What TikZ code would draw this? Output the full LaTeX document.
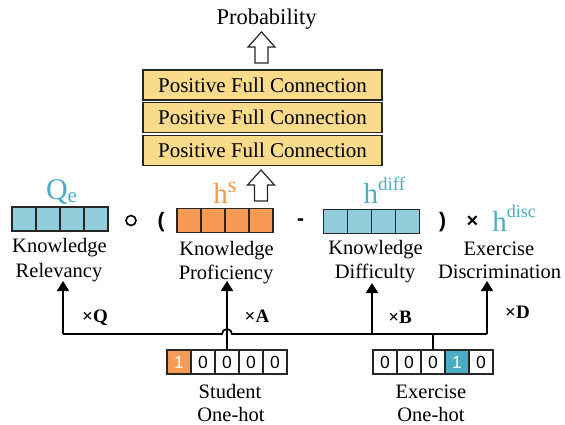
\documentclass[tikz,border=0pt]{standalone}
\usepackage{fontspec}
\setmainfont{Liberation Serif}
\newfontfamily\sansf{Liberation Sans}
\usetikzlibrary{arrows.meta}
\definecolor{kblue}{HTML}{92CDDC}
\definecolor{korange}{HTML}{F79A55}
\definecolor{kyellow}{HTML}{FADB8C}
\definecolor{tcyan}{HTML}{4BACC6}
\definecolor{torange}{HTML}{F79646}
\newcommand\setfs[1]{\fontsize{#1}{#1}\selectfont}
\begin{document}
\begin{tikzpicture}[x=1pt,y=-1pt,
  cell/.style={draw=black!85,line width=1.3pt,minimum width=24pt,minimum height=24pt,inner sep=0pt,outer sep=0pt,font=\sansf\setfs{17.5}},
  pfc/.style={draw=black!85,line width=1.3pt,fill=kyellow,minimum width=239pt,minimum height=30pt,inner sep=0pt,font=\setfs{21}},
  lbl/.style={anchor=base,inner sep=0pt,font=\setfs{20.5}},
  mult/.style={anchor=base,inner sep=0pt,font=\bfseries\setfs{19}},
  op/.style={inner sep=0pt,anchor=center,font=\sansf\bfseries\setfs{21}},
  conn/.style={line width=1.7pt,-{Triangle[length=10pt,width=12pt]}},
  wire/.style={line width=1.7pt},
  hollow/.style={draw=black!85,line width=1.2pt,fill=white,line join=miter},
  harrow/.pic={\draw[hollow] (-6.5,0) -- (-6.5,-16) -- (-13.5,-16) -- (0,-31) -- (13.5,-16) -- (6.5,-16) -- (6.5,0) -- cycle;}]
\useasboundingbox (0,0) rectangle (565,425);

% top
\node[anchor=base,inner sep=0pt,font=\setfs{22.5}] (prob) at (266.5,25) {Probability};
\pic at (261.5,63) {harrow};
\node[pfc] (pfc1) at (262.5,85) {Positive Full Connection};
\node[pfc] (pfc2) at (262.5,117.5) {Positive Full Connection};
\node[pfc] (pfc3) at (262.5,150.5) {Positive Full Connection};
\pic at (261,201) {harrow};

% symbols
\node[anchor=base,inner sep=0pt,text=tcyan] (qe) at (61.5,199) {\setfs{30}Q\raisebox{-3pt}{\setfs{21}e}};
\node[anchor=base,inner sep=0pt,text=torange] (hs) at (225,203) {\setfs{29}h\raisebox{10pt}{\setfs{22}s}};
\node[anchor=base,inner sep=0pt,text=tcyan] (hdiff) at (384.5,203) {\setfs{29}h\raisebox{13pt}{\setfs{19}diff}};
\node[anchor=base,inner sep=0pt,text=tcyan] (hdisc) at (514,231) {\setfs{29}h\raisebox{14pt}{\setfs{18}disc}};

% vectors
\foreach \i in {1,...,4} {
  \node[cell,fill=kblue] (kr\i) at ({12+12+24*(\i-1)},219) {};
  \node[cell,fill=korange] (kp\i) at ({177+12+24*(\i-1)},220.5) {};
  \node[cell,fill=kblue] (kd\i) at ({323.5+12+24*(\i-1)},221.5) {};
}
% operators
\node[circle,draw,line width=1.6pt,minimum size=10pt,inner sep=0pt] (opc) at (131,220.5) {};
\node[op] (lpar) at (161,222) {(};
\node[op] (minus) at (300.5,222) {-};
\node[op] (rpar) at (442.5,222) {)};
\node[op,font=\sansf\bfseries\setfs{20}] (times) at (472.5,221.5) {×};

% labels
\node[lbl] (krl1) at (59.5,252) {Knowledge};
\node[lbl] (krl2) at (59,277) {Relevancy};
\node[lbl] (kpl1) at (226.5,255) {Knowledge};
\node[lbl] (kpl2) at (226,279) {Proficiency};
\node[lbl] (kdl1) at (375.5,254) {Knowledge};
\node[lbl] (kdl2) at (375,278) {Difficulty};
\node[lbl] (exl1) at (499,255) {Exercise};
\node[lbl] (exl2) at (499.5,278) {Discrimination};

% one-hot vectors
\node[cell,fill=korange,text=white] (st1) at ({167+12},362) {1};
\foreach \i in {2,...,5} {
  \node[cell,fill=white] (st\i) at ({167+12+24*(\i-1)},362) {0};
}
\foreach \i/\v in {1/0,2/0,3/0,5/0} {
  \node[cell,fill=white] (ex\i) at ({373+12+24*(\i-1)},362) {\v};
}
\node[cell,fill=tcyan,text=white] (ex4) at ({373+12+24*3},362) {1};
\node[lbl] (stl1) at (230,398) {Student};
\node[lbl] (stl2) at (231,421.5) {One-hot};
\node[lbl] (exo1) at (431,398) {Exercise};
\node[lbl] (exo2) at (431,421.5) {One-hot};

% connectors
\coordinate (jq) at (63,334);
\coordinate (jb) at (372,334);
\coordinate (jd) at (487,334);
\coordinate (hopl) at (222,334);
\coordinate (tq) at (63,281);
\coordinate (ta) at (227,281);
\coordinate (tb) at (372,283);
\coordinate (td) at (487,281);
\draw[wire] (jq) -- (hopl) arc[start angle=180,end angle=360,radius=5] -- (jd);
\draw[conn] (jq) -- (tq);
\draw[conn] (st3.north) -- (ta);
\draw[conn] (jb) -- (tb);
\draw[conn] (jd) -- (td);
\draw[wire] (ex3.north) -- (ex3.north |- jd);

\node[mult] (mq) at (95,322) {×Q};
\node[mult] (ma) at (257,322) {×A};
\node[mult] (mb) at (400,323) {×B};
\node[mult] (md) at (517.5,318) {×D};
\end{tikzpicture}
\end{document}
